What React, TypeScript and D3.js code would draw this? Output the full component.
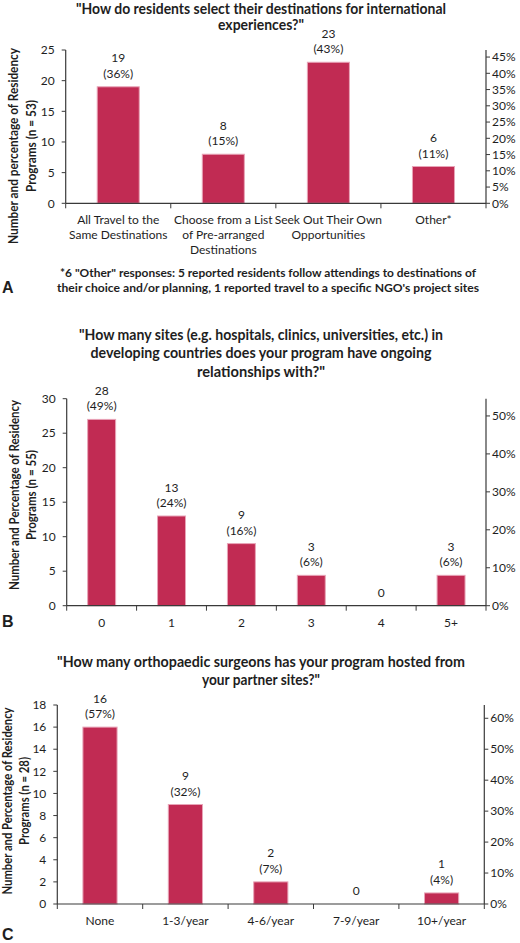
import React from "react";
import * as d3 from "d3";

// ---------- Panel A data ----------
const catsA = [
  ["All Travel to the", "Same Destinations"],
  ["Choose from a List", "of Pre-arranged", "Destinations"],
  ["Seek Out Their Own", "Opportunities"],
  ["Other*"],
];
const barsA = [19, 8, 23, 6];
const countsA = ["19", "8", "23", "6"];
const pctsA = ["36%", "15%", "43%", "11%"];
const nA = 53;
const leftTicksA = [0, 5, 10, 15, 20, 25];
const rightTicksA = [0, 5, 10, 15, 20, 25, 30, 35, 40, 45];
const titleA = ['"How do residents select their destinations for international', 'experiences?"'];
const yLabelA = ["Number and percentage of Residency", "Programs (n = 53)"];
const footnoteA = [
  '*6 "Other" responses: 5 reported residents follow attendings to destinations of',
  "their choice and/or planning, 1 reported travel to a specific NGO's project sites",
];

// ---------- Panel B data ----------
const catsB = [["0"], ["1"], ["2"], ["3"], ["4"], ["5+"]];
const barsB = [27, 13, 9, 4.4, 0, 4.4];
const countsB = ["28", "13", "9", "3", "0", "3"];
const pctsB = ["49%", "24%", "16%", "6%", "", "6%"];
const nB = 55;
const leftTicksB = [0, 5, 10, 15, 20, 25, 30];
const rightTicksB = [0, 10, 20, 30, 40, 50];
const titleB = [
  '"How many sites (e.g. hospitals, clinics, universities, etc.) in',
  "developing countries does your program have ongoing",
  'relationships with?"',
];
const yLabelB = ["Number and Percentage of Residency", "Programs (n = 55)"];

// ---------- Panel C data ----------
const catsC = [["None"], ["1-3/year"], ["4-6/year"], ["7-9/year"], ["10+/year"]];
const barsC = [16, 9, 2, 0, 1];
const countsC = ["16", "9", "2", "0", "1"];
const pctsC = ["57%", "32%", "7%", "", "4%"];
const nC = 28;
const leftTicksC = [0, 2, 4, 6, 8, 10, 12, 14, 16, 18];
const rightTicksC = [0, 10, 20, 30, 40, 50, 60];
const titleC = ['"How many orthopaedic surgeons has your program hosted from', 'your partner sites?"'];
const yLabelC = ["Number and Percentage of Residency", "Programs (n = 28)"];

// ---------- styles ----------
const FONT = "Lato, 'Open Sans', sans-serif";
const BAR = "#C12B53";
const BAR_EDGE = "#E8A4B7";
const AXIS = "#3a3a3a";
const TEXT = "#1e1e1e";
const FS = 12;

type PanelProps = {
  cats: string[][];
  bars: number[];
  counts: string[];
  pcts: string[];
  n: number;
  leftTicks: number[];
  rightTicks: number[];
  maxLeft: number;
  x0: number;
  x1: number;
  yTop: number;
  yBottom: number;
  title: string[];
  titleY: number[];
  titleW: number[];
  yLabel: string[];
  yLabelX: number[];
  yLabelCY: number;
  yLabelW: number[];
  letter: string;
  letterY: number;
};

function Panel(p: PanelProps) {
  const idx = p.cats.map((_, i) => String(i));
  const x = d3.scaleBand().domain(idx).range([p.x0, p.x1]).paddingInner(0.6).paddingOuter(0.3);
  const y = d3.scaleLinear().domain([0, p.maxLeft]).range([p.yBottom, p.yTop]);
  const yR = d3.scaleLinear().domain([0, (p.maxLeft / p.n) * 100]).range([p.yBottom, p.yTop]);
  const step = x.step();
  const bounds = d3.range(p.cats.length + 1).map((i) => p.x0 + i * step);
  const tcx = 261;
  return (
    <g fontFamily={FONT} fill={TEXT}>
      {p.title.map((t, i) => (
        <text key={"t" + i} x={tcx} y={p.titleY[i]} textAnchor="middle" fontWeight="bold" fontSize={14.5}
          textLength={p.titleW[i]} lengthAdjust="spacingAndGlyphs">{t}</text>
      ))}
      {p.yLabel.map((t, i) => (
        <text key={"yl" + i} transform={`translate(${p.yLabelX[i]},${p.yLabelCY}) rotate(-90)`} textAnchor="middle"
          fontWeight="bold" fontSize={12.5} textLength={p.yLabelW[i]} lengthAdjust="spacingAndGlyphs">{t}</text>
      ))}
      {p.bars.map((v, i) =>
        v > 0 ? (
          <rect key={"b" + i} x={x(String(i))!} y={y(v)} width={x.bandwidth()} height={y(0) - y(v)}
            fill={BAR} stroke={BAR_EDGE} strokeWidth={1} />
        ) : null
      )}
      {p.bars.map((v, i) => {
        const cx = x(String(i))! + x.bandwidth() / 2;
        const top = y(v);
        if (!p.pcts[i]) {
          return (
            <text key={"l" + i} x={cx} y={top - 9} textAnchor="middle" fontSize={FS}>{p.counts[i]}</text>
          );
        }
        return (
          <g key={"l" + i}>
            <text x={cx} y={top - 24.5} textAnchor="middle" fontSize={FS}>{p.counts[i]}</text>
            <text x={cx} y={top - 9} textAnchor="middle" fontSize={FS}>{`(${p.pcts[i]})`}</text>
          </g>
        );
      })}
      <line x1={p.x0} x2={p.x0} y1={p.yTop} y2={p.yBottom} stroke={AXIS} strokeWidth={1.2} />
      {p.leftTicks.map((t) => (
        <g key={"lt" + t}>
          <line x1={p.x0 - 4} x2={p.x0} y1={y(t)} y2={y(t)} stroke={AXIS} strokeWidth={1} />
          <text x={p.x0 - 11} y={y(t) + 4.2} textAnchor="end" fontSize={FS}>{t}</text>
        </g>
      ))}
      <line x1={p.x1} x2={p.x1} y1={p.yTop} y2={p.yBottom} stroke={AXIS} strokeWidth={1.2} />
      {p.rightTicks.map((t) => (
        <g key={"rt" + t}>
          <line x1={p.x1} x2={p.x1 + 4} y1={yR(t)} y2={yR(t)} stroke={AXIS} strokeWidth={1} />
          <text x={p.x1 + 6} y={yR(t) + 4.2} textAnchor="start" fontSize={FS}>{t + "%"}</text>
        </g>
      ))}
      <line x1={p.x0} x2={p.x1} y1={p.yBottom} y2={p.yBottom} stroke={AXIS} strokeWidth={1.2} />
      {bounds.map((bx, i) => (
        <line key={"bt" + i} x1={bx} x2={bx} y1={p.yBottom} y2={p.yBottom + 5} stroke={AXIS} strokeWidth={1} />
      ))}
      {p.cats.map((lines, i) => (
        <g key={"c" + i}>
          {lines.map((ln, j) => (
            <text key={j} x={x(String(i))! + x.bandwidth() / 2} y={p.yBottom + 21 + j * 15} textAnchor="middle" fontSize={FS}>
              {ln}
            </text>
          ))}
        </g>
      ))}
      <text x={2} y={p.letterY} fontFamily="'Liberation Sans', Arial, sans-serif" fontWeight="bold" fontSize={16}>
        {p.letter}
      </text>
    </g>
  );
}

export default function App() {
  return (
    <svg width={520} height={943} style={{ position: "absolute", left: 0, top: 0, background: "#fff" }}>
      <rect width={520} height={943} fill="#fff" />
      <Panel
        cats={catsA} bars={barsA} counts={countsA} pcts={pctsA} n={nA}
        leftTicks={leftTicksA} rightTicks={rightTicksA} maxLeft={25}
        x0={65.7} x1={486} yTop={50} yBottom={203.3}
        title={titleA} titleY={[13.5, 29.5]} titleW={[370, 86]}
        yLabel={yLabelA} yLabelX={[18, 36]} yLabelCY={146} yLabelW={[196, 92]}
        letter="A" letterY={293}
      />
      <g fontFamily={FONT} fill={TEXT} fontWeight="bold" fontSize={12}>
        {footnoteA.map((t, i) => (
          <text key={i} x={268} y={277 + i * 15} textAnchor="middle" textLength={[416, 422][i]} lengthAdjust="spacingAndGlyphs">
            {t}
          </text>
        ))}
      </g>
      <Panel
        cats={catsB} bars={barsB} counts={countsB} pcts={pctsB} n={nB}
        leftTicks={leftTicksB} rightTicks={rightTicksB} maxLeft={30}
        x0={66.7} x1={486} yTop={398.7} yBottom={605.7}
        title={titleB} titleY={[339.5, 358, 376.5]} titleW={[364, 341, 128]}
        yLabel={yLabelB} yLabelX={[19, 36]} yLabelCY={495} yLabelW={[190, 90]}
        letter="B" letterY={627}
      />
      <Panel
        cats={catsC} bars={barsC} counts={countsC} pcts={pctsC} n={nC}
        leftTicks={leftTicksC} rightTicks={rightTicksC} maxLeft={18}
        x0={57.3} x1={484.3} yTop={705} yBottom={904}
        title={titleC} titleY={[667, 685]} titleW={[408, 118]}
        yLabel={yLabelC} yLabelX={[12, 29]} yLabelCY={801} yLabelW={[187, 88]}
        letter="C" letterY={940}
      />
    </svg>
  );
}
